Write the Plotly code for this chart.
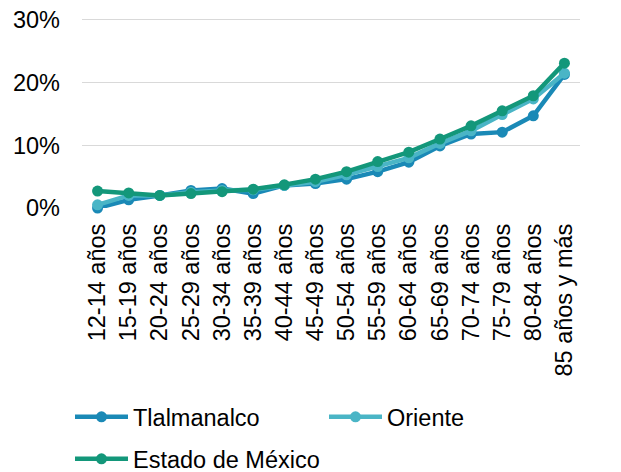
import plotly.graph_objects as go

categories = ["12-14 años", "15-19 años", "20-24 años", "25-29 años", "30-34 años",
              "35-39 años", "40-44 años", "45-49 años", "50-54 años", "55-59 años",
              "60-64 años", "65-69 años", "70-74 años", "75-79 años", "80-84 años",
              "85 años y más"]
tlalmanalco = [0.0, 1.3, 2.0, 2.8, 3.1, 2.3, 3.6, 3.9, 4.6, 5.8, 7.3, 9.9, 11.8, 12.1, 14.7, 21.3]
oriente = [0.5, 2.0, 2.0, 2.5, 2.8, 2.9, 3.6, 4.2, 5.3, 6.6, 8.0, 10.3, 12.3, 14.9, 17.4, 21.5]
estado = [2.7, 2.4, 2.0, 2.3, 2.6, 3.0, 3.7, 4.6, 5.8, 7.4, 8.9, 11.0, 13.1, 15.5, 17.9, 23.1]
series_names = ["Tlalmanalco", "Oriente", "Estado de México"]
colors = ["#1A89B6", "#4AB5C6", "#13977A"]
y_ticks = [0, 10, 20, 30]
y_tick_labels = ["0%", "10%", "20%", "30%"]

FONT = "Liberation Sans, Arial, sans-serif"
FS = 23.5
W, H = 613, 464  # page body has an 8px margin
legend_ids = ["legend", "legend2", "legend3"]
fig = go.Figure()
for name, vals, col, lg in zip(series_names, [tlalmanalco, oriente, estado], colors, legend_ids):
    fig.add_trace(go.Scatter(
        x=categories, y=vals, name=name, mode="lines+markers",
        line=dict(color=col, width=4.5),
        marker=dict(color=col, size=11),
        cliponaxis=False, legend=lg,
    ))

leg_common = dict(orientation="h", xref="container", yref="container",
                  yanchor="middle", xanchor="left", font=dict(size=FS),
                  itemwidth=53, bgcolor="rgba(0,0,0,0)")
fig.update_layout(
    width=W, height=H,
    margin=dict(l=74, r=41, t=10, b=264, autoexpand=False),
    paper_bgcolor="white", plot_bgcolor="white",
    font=dict(family=FONT, size=FS, color="#000000"),
    xaxis=dict(type="category", range=[-0.5, len(categories) - 0.5],
               showgrid=False, showline=False, ticks="",
               tickangle=-90, tickfont=dict(size=FS), fixedrange=True,
               automargin=False, ticklabelstandoff=10),
    yaxis=dict(range=[0, 30.3], tickvals=y_ticks, ticktext=y_tick_labels,
               showgrid=True, gridcolor="#D9D9D9", gridwidth=1.3,
               zeroline=False, showline=False, ticks="", tickfont=dict(size=FS),
               ticklabelstandoff=21, automargin=False, ticklabeloverflow="allow"),
    legend=dict(x=62 / W, y=(H - 409) / H, **leg_common),
    legend2=dict(x=316 / W, y=(H - 409) / H, **leg_common),
    legend3=dict(x=62 / W, y=(H - 451) / H, **leg_common),
    showlegend=True,
)
fig.write_html("out.html")
